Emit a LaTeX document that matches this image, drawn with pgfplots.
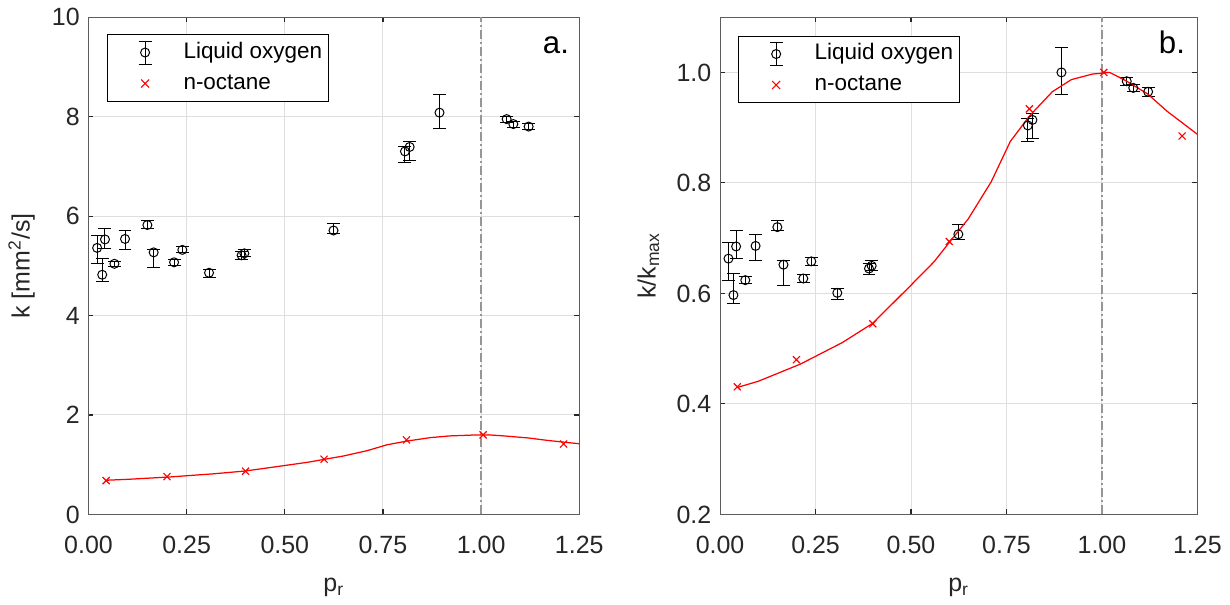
\documentclass[border=0pt]{standalone}
\usepackage{fontspec}
\setmainfont{Liberation Sans}
\usepackage{pgfplots}
\pgfplotsset{compat=1.18}

\definecolor{axgray}{RGB}{38,38,38}
\definecolor{gridgray}{RGB}{223,223,223}
\definecolor{refgray}{RGB}{150,150,150}
\definecolor{octred}{RGB}{255,0,0}

\tikzset{cornerlabel/.style={anchor=base east, inner sep=0pt,
  font=\fontsize{12.5}{15}\selectfont, text=black}}

% 1 px of the reference = 0.4pt
\pgfplotsset{
  mataxis/.style={
    scale only axis, height=199.2pt,
    xmin=0, xmax=1.25, xtick={0,0.25,0.5,0.75,1,1.25},
    grid=major, grid style={gridgray, line width=0.4pt},
    axis line style={axgray!75, line width=0.45pt},
    tick style={axgray, line width=0.45pt},
    tick align=inside, major tick length=2pt,
    ticklabel style={font=\fontsize{10}{12}\selectfont, text=axgray},
    label style={font=\fontsize{10}{12}\selectfont, text=axgray},
    /pgf/number format/assume math mode=true,
    xticklabel style={yshift=-5.2pt, /pgf/number format/.cd, fixed, fixed zerofill, precision=2},
    xlabel style={yshift=-2.8pt},
    xlabel={p\textsubscript{r}},
    legend cell align=left,
    legend style={draw=black, line width=0.4pt, fill=white,
      font=\fontsize{9}{11}\selectfont, text=black, anchor=north west,
      inner xsep=1pt, inner ysep=1pt, row sep=0pt,
      nodes={inner sep=1.5pt, text height=6.8pt, text depth=2.2pt}},
  },
  lox/.style={black, line width=0.4pt, only marks, mark=o, mark size=1.8pt,
    mark options={black, line width=0.4pt},
    error bars/y dir=both, error bars/y explicit,
    error bars/error bar style={black, line width=0.4pt},
    error bars/error mark options={black, mark size=2.6pt, line width=0.4pt, rotate=90}},
  loxlegend/.style={legend image code/.code={
    \path (0pt,-6pt) (27.5pt,6pt);
    \draw[black, line width=0.4pt] (13.8pt,-4.6pt) -- (13.8pt,4.6pt)
      (11.2pt,-4.6pt) -- (16.4pt,-4.6pt) (11.2pt,4.6pt) -- (16.4pt,4.6pt);
    \draw[black, line width=0.4pt] (13.8pt,0pt) circle (1.8pt);}},
  octlegend/.style={legend image code/.code={
    \path (0pt,-6pt) (27.5pt,6pt);
    \draw[octred, line width=0.4pt] (12.2pt,-1.6pt) -- (15.4pt,1.6pt)
      (12.2pt,1.6pt) -- (15.4pt,-1.6pt);}},
  octx/.style={octred, only marks, mark=x, mark size=2pt,
    mark options={octred, line width=0.45pt}},
  octline/.style={octred, line width=0.5pt, no marks, forget plot},
  refline/.style={refgray, line width=0.6pt,
    dash pattern=on 3.6pt off 1.2pt on 0.8pt off 1.2pt, forget plot},
}

\begin{document}
\begin{tikzpicture}

\begin{axis}[mataxis, width=196.6pt,
  ymin=0, ymax=10, ytick={0,2,4,6,8,10},
  ylabel={k [mm\textsuperscript{2}/s]},
  legend style={at={(rel axis cs:0.038,0.966)}}]
\addplot[refline] coordinates {(1,0) (1,10)};
\addplot[lox, loxlegend] coordinates {
  (0.022,5.36) += (0,0.24) -= (0,0.32)
  (0.035,4.82) += (0,0.32) -= (0,0.13)
  (0.042,5.53) += (0,0.23) -= (0,0.18)
  (0.066,5.04) += (0,0.05) -= (0,0.05)
  (0.093,5.54) += (0,0.17) -= (0,0.22)
  (0.150,5.82) += (0,0.10) -= (0,0.06)
  (0.166,5.27) += (0,0.06) -= (0,0.31)
  (0.218,5.07) += (0,0.06) -= (0,0.06)
  (0.239,5.32) += (0,0.06) -= (0,0.06)
  (0.307,4.86) += (0,0.06) -= (0,0.10)
  (0.390,5.21) += (0,0.08) -= (0,0.08)
  (0.397,5.25) += (0,0.07) -= (0,0.07)
  (0.624,5.71) += (0,0.15) -= (0,0.07)
  (0.806,7.30) += (0,0.10) -= (0,0.23)
  (0.818,7.39) += (0,0.10) -= (0,0.27)
  (0.894,8.08) += (0,0.36) -= (0,0.32)
  (1.065,7.95) += (0,0.06) -= (0,0.06)
  (1.082,7.85) += (0,0.06) -= (0,0.06)
  (1.121,7.80) += (0,0.06) -= (0,0.06)
};
\addlegendentry{Liquid oxygen}
\addplot[octx, octlegend] coordinates {
  (0.045,0.68) (0.20,0.76) (0.40,0.87) (0.60,1.11) (0.81,1.50) (1.005,1.60) (1.21,1.416)
};
\addlegendentry{n-octane}
\addplot[octline] coordinates {
  (0.046,0.688) (0.10,0.706) (0.21,0.755) (0.32,0.818) (0.40,0.874)
  (0.50,0.984) (0.56,1.051) (0.60,1.107) (0.65,1.176) (0.71,1.283)
  (0.76,1.400) (0.81,1.474) (0.87,1.544) (0.92,1.579) (0.975,1.595)
  (1.02,1.600) (1.06,1.578) (1.12,1.538) (1.17,1.488) (1.25,1.421)
};
\node[cornerlabel] at (rel axis cs:0.98,0.926) {a.};
\end{axis}

\begin{axis}[mataxis, xshift=253pt, width=191.2pt,
  ymin=0.2, ymax=1.1, ytick={0.2,0.4,0.6,0.8,1.0},
  yticklabel style={/pgf/number format/.cd, fixed, fixed zerofill, precision=1},
  ylabel={k/k\textsubscript{max}},
  legend style={at={(rel axis cs:0.038,0.963)}}]
\addplot[refline] coordinates {(1,0.2) (1,1.1)};
\addplot[lox, loxlegend] coordinates {
  (0.022,0.663) += (0,0.030) -= (0,0.039)
  (0.035,0.597) += (0,0.039) -= (0,0.016)
  (0.042,0.685) += (0,0.028) -= (0,0.022)
  (0.066,0.624) += (0,0.006) -= (0,0.006)
  (0.093,0.686) += (0,0.021) -= (0,0.027)
  (0.150,0.720) += (0,0.012) -= (0,0.007)
  (0.166,0.652) += (0,0.008) -= (0,0.038)
  (0.218,0.627) += (0,0.007) -= (0,0.007)
  (0.239,0.658) += (0,0.007) -= (0,0.007)
  (0.307,0.601) += (0,0.008) -= (0,0.012)
  (0.390,0.645) += (0,0.010) -= (0,0.010)
  (0.397,0.650) += (0,0.009) -= (0,0.009)
  (0.624,0.707) += (0,0.018) -= (0,0.009)
  (0.806,0.904) += (0,0.012) -= (0,0.029)
  (0.818,0.914) += (0,0.012) -= (0,0.033)
  (0.894,1.000) += (0,0.045) -= (0,0.040)
  (1.065,0.984) += (0,0.007) -= (0,0.007)
  (1.082,0.972) += (0,0.007) -= (0,0.007)
  (1.121,0.965) += (0,0.008) -= (0,0.008)
};
\addlegendentry{Liquid oxygen}
\addplot[octx, octlegend] coordinates {
  (0.045,0.431) (0.20,0.480) (0.40,0.545) (0.60,0.694) (0.81,0.934) (1.005,1.000) (1.21,0.885)
};
\addlegendentry{n-octane}
\addplot[octline] coordinates {
  (0.046,0.430) (0.10,0.441) (0.21,0.472) (0.32,0.511) (0.40,0.546)
  (0.50,0.615) (0.56,0.657) (0.60,0.692) (0.65,0.735) (0.71,0.802)
  (0.76,0.875) (0.81,0.921) (0.87,0.965) (0.92,0.987) (0.975,0.997)
  (1.02,1.000) (1.06,0.986) (1.12,0.961) (1.17,0.930) (1.25,0.888)
};
\node[cornerlabel] at (rel axis cs:0.975,0.926) {b.};
\end{axis}

\end{tikzpicture}
\end{document}
